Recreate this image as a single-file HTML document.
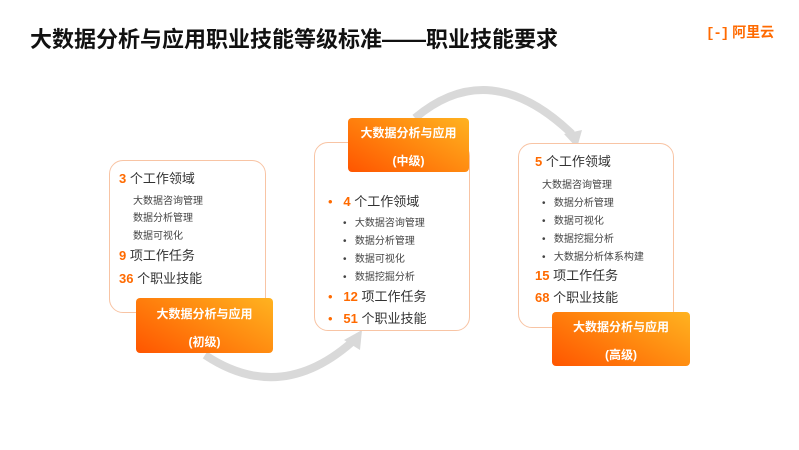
<!DOCTYPE html>
<html><head><meta charset="utf-8"><style>
body{margin:0;width:799px;height:450px;background:#fff;position:relative;overflow:hidden;font-family:"Liberation Sans","Noto Sans CJK SC",sans-serif;color:#333}
.a{position:absolute;white-space:nowrap}
.box{position:absolute;border:1px solid #f8c4a4;border-radius:14px;background:#fff}
.lab{position:absolute;border-radius:4px;background:linear-gradient(30deg,#ff5500,#ff8a10 55%,#ffb320);color:#fff;font-weight:bold;font-size:12px;text-align:center}
.big{font-size:13px}
.n{color:#ff6a00;font-weight:bold}
.s{font-size:10px;color:#444}
.ob{color:#ff6a00}
</style></head><body>
<div class="a" style="left:30px;top:22px;font-size:22px;font-weight:bold;color:#111">大数据分析与应用职业技能等级标准——职业技能要求</div>
<div class="a" style="left:706px;top:22px;font-size:14px;font-weight:bold;color:#ff6a00"><span style="font-family:'Liberation Mono',monospace;letter-spacing:-1px">[-]</span> 阿里云</div>
<svg style="position:absolute;left:0;top:0" width="799" height="450">
<path d="M205,355 Q280,405 352,342" fill="none" stroke="#d9d9d9" stroke-width="8"/>
<polygon points="344,340 362,330 360,350" fill="#d9d9d9"/>
<path d="M415,118 Q490,55 572,134" fill="none" stroke="#d9d9d9" stroke-width="8"/>
<polygon points="564,134 582,130 577,148" fill="#d9d9d9"/>
</svg>
<div class="box" style="left:109px;top:160px;width:155px;height:151px"></div>
<div class="box" style="left:314px;top:142px;width:154px;height:187px"></div>
<div class="box" style="left:518px;top:143px;width:154px;height:183px"></div>

<div class="a big" style="left:119px;top:168px"><span class="n">3</span> 个工作领域</div>
<div class="a s" style="left:133px;top:192px">大数据咨询管理</div>
<div class="a s" style="left:133px;top:209px">数据分析管理</div>
<div class="a s" style="left:133px;top:227px">数据可视化</div>
<div class="a big" style="left:119px;top:245px"><span class="n">9</span> 项工作任务</div>
<div class="a big" style="left:119px;top:268px"><span class="n">36</span> 个职业技能</div>

<div class="a big" style="left:328px;top:191px"><span class="ob">•</span>&nbsp;&nbsp; <span class="n">4</span> 个工作领域</div>
<div class="a s" style="left:343px;top:214px">•&nbsp;&nbsp; 大数据咨询管理</div>
<div class="a s" style="left:343px;top:232px">•&nbsp;&nbsp; 数据分析管理</div>
<div class="a s" style="left:343px;top:250px">•&nbsp;&nbsp; 数据可视化</div>
<div class="a s" style="left:343px;top:268px">•&nbsp;&nbsp; 数据挖掘分析</div>
<div class="a big" style="left:328px;top:286px"><span class="ob">•</span>&nbsp;&nbsp; <span class="n">12</span> 项工作任务</div>
<div class="a big" style="left:328px;top:308px"><span class="ob">•</span>&nbsp;&nbsp; <span class="n">51</span> 个职业技能</div>

<div class="a big" style="left:535px;top:151px"><span class="n">5</span> 个工作领域</div>
<div class="a s" style="left:542px;top:176px">大数据咨询管理</div>
<div class="a s" style="left:542px;top:194px">•&nbsp;&nbsp; 数据分析管理</div>
<div class="a s" style="left:542px;top:212px">•&nbsp;&nbsp; 数据可视化</div>
<div class="a s" style="left:542px;top:230px">•&nbsp;&nbsp; 数据挖掘分析</div>
<div class="a s" style="left:542px;top:248px">•&nbsp;&nbsp; 大数据分析体系构建</div>
<div class="a big" style="left:535px;top:265px"><span class="n">15</span> 项工作任务</div>
<div class="a big" style="left:535px;top:287px"><span class="n">68</span> 个职业技能</div>

<div class="lab" style="left:136px;top:298px;width:137px;height:55px"><div style="margin-top:7px">大数据分析与应用</div><div style="margin-top:11px">(初级)</div></div>
<div class="lab" style="left:348px;top:118px;width:121px;height:54px"><div style="margin-top:6px">大数据分析与应用</div><div style="margin-top:11px">(中级)</div></div>
<div class="lab" style="left:552px;top:312px;width:138px;height:54px"><div style="margin-top:6px">大数据分析与应用</div><div style="margin-top:11px">(高级)</div></div>
</body></html>
